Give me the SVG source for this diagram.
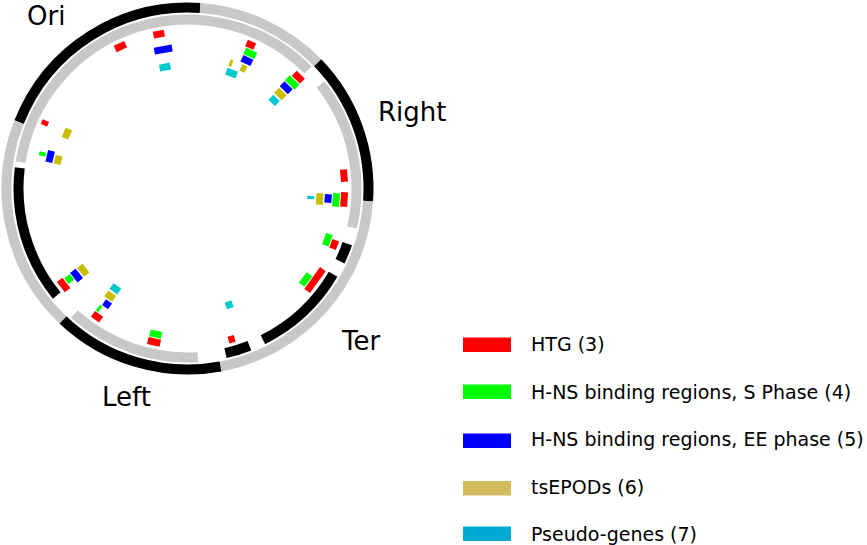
<svg xmlns="http://www.w3.org/2000/svg" width="867" height="545" viewBox="0 0 867 545">
<style>
.rk{fill:none;stroke:#000;stroke-width:10}
.rg{fill:none;stroke:#c8c8c8;stroke-width:10}
.red{fill:#ff0000}.grn{fill:#00ff00}.blu{fill:#0000ff}.yel{fill:#c8be00}.cyn{fill:#00c8cc}
.lab{font-family:"DejaVu Sans",sans-serif;font-size:26px;fill:#000}
.leg{font-family:"DejaVu Sans",sans-serif;font-size:19px;fill:#000}
</style>
<rect width="867" height="545" fill="#fff"/>
<g id="ring-outer">
<path class="rk" d="M19.09 122.16A181 181 0 0 1 200.13 7.94"/>
<path class="rg" d="M200.13 7.94A181 181 0 0 1 317.70 62.76"/>
<path class="rk" d="M317.70 62.76A181 181 0 0 1 368.06 201.13"/>
<path class="rg" d="M368.06 201.13A181 181 0 0 1 220.48 366.48"/>
<path class="rk" d="M220.48 366.48A181 181 0 0 1 62.90 319.80"/>
<path class="rg" d="M62.90 319.80A181 181 0 0 1 19.09 122.16"/>
</g>
<g id="ring-inner">
<path class="rg" d="M197.82 357.18A169 169 0 0 1 74.42 314.09"/>
<path class="rk" d="M56.73 295.54A169 169 0 0 1 19.76 167.90"/>
<path class="rg" d="M20.58 162.06A169 169 0 0 1 308.04 70.05"/>
<path class="rg" d="M320.67 84.45A169 169 0 0 1 351.97 227.38"/>
<path class="rk" d="M347.29 243.52A169 169 0 0 1 340.04 261.26"/>
<path class="rk" d="M333.12 274.27A169 169 0 0 1 262.91 339.74"/>
<path class="rk" d="M249.44 345.74A169 169 0 0 1 225.52 353.17"/>
</g>
<g id="features" transform="translate(187.5 188.5)">
<g id="htg">
<rect class="red" x="-5.75" y="-160.5" width="11.5" height="7" transform="rotate(-25.3)"/>
<rect class="red" x="-5.5" y="-160.5" width="11" height="7" transform="rotate(-10.5)"/>
<rect class="red" x="-2.5" y="-160.5" width="5" height="7" transform="rotate(-65.3)"/>
<rect class="red" x="-4.5" y="-160.5" width="9" height="7" transform="rotate(23.7)"/>
<rect class="red" x="-5.7" y="-160.5" width="11.4" height="7" transform="rotate(44.9)"/>
<rect class="red" x="-6.2" y="-160.5" width="12.4" height="7" transform="rotate(85.3)"/>
<rect class="red" x="-7.2" y="-160.5" width="14.4" height="7" transform="rotate(94)"/>
<rect class="red" x="-4.5" y="-160.5" width="9" height="7" transform="rotate(110.9)"/>
<rect class="red" x="-13.5" y="-160.5" width="27" height="7" transform="rotate(125.7)"/>
<rect class="red" x="-6.5" y="-160.5" width="13" height="7" transform="rotate(232.1)"/>
<rect class="red" x="-5" y="-160.5" width="10" height="7" transform="rotate(215.2)"/>
<rect class="red" x="-6.4" y="-160.5" width="12.8" height="7" transform="rotate(192.3)"/>
<rect class="red" x="-3.2" y="-160.5" width="6.4" height="7" transform="rotate(163.7)"/>
</g>
<g id="hns-s">
<rect class="grn" x="-2" y="-152.5" width="4" height="7" transform="rotate(-76.6)"/>
<rect class="grn" x="-6.1" y="-152.5" width="12.2" height="7" transform="rotate(24.9)"/>
<rect class="grn" x="-6.75" y="-152.5" width="13.5" height="7" transform="rotate(44.6)"/>
<rect class="grn" x="-6.7" y="-152.5" width="13.4" height="7" transform="rotate(94.4)"/>
<rect class="grn" x="-6" y="-152.5" width="12" height="7" transform="rotate(110.1)"/>
<rect class="grn" x="-6.5" y="-152.5" width="13" height="7" transform="rotate(127.6)"/>
<rect class="grn" x="-3.6" y="-152.5" width="7.2" height="7" transform="rotate(232.6)"/>
<rect class="grn" x="-1.5" y="-152.5" width="3" height="7" transform="rotate(216.4)"/>
<rect class="grn" x="-5.9" y="-152.5" width="11.8" height="7" transform="rotate(192.3)"/>
</g>
<g id="hns-ee">
<rect class="blu" x="-9" y="-144.5" width="18" height="7" transform="rotate(-9.9)"/>
<rect class="blu" x="-5.85" y="-144.5" width="11.7" height="7" transform="rotate(-76.9)"/>
<rect class="blu" x="-5.5" y="-144.5" width="11" height="7" transform="rotate(24.9)"/>
<rect class="blu" x="-5.7" y="-144.5" width="11.4" height="7" transform="rotate(44.4)"/>
<rect class="blu" x="-4.25" y="-144.5" width="8.5" height="7" transform="rotate(94.1)"/>
<rect class="blu" x="-6" y="-144.5" width="12" height="7" transform="rotate(231.9)"/>
<rect class="blu" x="-3.65" y="-144.5" width="7.3" height="7" transform="rotate(214.8)"/>
</g>
<g id="tsepods">
<rect class="yel" x="-5" y="-136" width="10" height="7" transform="rotate(-65.5)"/>
<rect class="yel" x="-4.35" y="-136" width="8.7" height="7" transform="rotate(-77.6)"/>
<rect class="yel" x="-1.5" y="-136" width="3" height="7" transform="rotate(19.1)"/>
<rect class="yel" x="-2.8" y="-136" width="5.6" height="7" transform="rotate(25)"/>
<rect class="yel" x="-5.35" y="-136" width="10.7" height="7" transform="rotate(44.5)"/>
<rect class="yel" x="-5.75" y="-136" width="11.5" height="7" transform="rotate(94.5)"/>
<rect class="yel" x="-5.5" y="-136" width="11" height="7" transform="rotate(231.9)"/>
<rect class="yel" x="-4.75" y="-136" width="9.5" height="7" transform="rotate(215.7)"/>
</g>
<g id="pseudo-genes">
<rect class="cyn" x="-5.5" y="-127" width="11" height="7" transform="rotate(-10.5)"/>
<rect class="cyn" x="-5.6" y="-127" width="11.2" height="7" transform="rotate(20.9)"/>
<rect class="cyn" x="-4.5" y="-127" width="9" height="7" transform="rotate(44.5)"/>
<rect class="cyn" x="-1.5" y="-127" width="3" height="7" transform="rotate(94.2)"/>
<rect class="cyn" x="-4.75" y="-127" width="9.5" height="7" transform="rotate(215.7)"/>
<rect class="cyn" x="-3.5" y="-127" width="7" height="7" transform="rotate(160.3)"/>
</g>
</g>
<g id="labels">
<text class="lab" x="27" y="24.5">Ori</text>
<text class="lab" x="378" y="121">Right</text>
<text class="lab" x="342" y="350">Ter</text>
<text class="lab" x="102" y="406">Left</text>
</g>
<g id="legend">
<g id="leg-htg"><rect x="463" y="337.5" width="48" height="14.5" fill="#ff0000"/><text class="leg" x="531" y="351">HTG (3)</text></g>
<g id="leg-hns-s"><rect x="463" y="384.5" width="48" height="14.5" fill="#00ff00"/><text class="leg" x="531" y="398.5">H-NS binding regions, S Phase (4)</text></g>
<g id="leg-hns-ee"><rect x="463" y="433.5" width="48" height="14.5" fill="#0000ff"/><text class="leg" x="531" y="446">H-NS binding regions, EE phase (5)</text></g>
<g id="leg-tsepods"><rect x="463" y="481" width="48" height="14.5" fill="#d2bc5f"/><text class="leg" x="531" y="493.5">tsEPODs (6)</text></g>
<g id="leg-pseudo"><rect x="463" y="526.5" width="48" height="14.5" fill="#00aad2"/><text class="leg" x="531" y="540.5">Pseudo-genes (7)</text></g>
</g>
</svg>
